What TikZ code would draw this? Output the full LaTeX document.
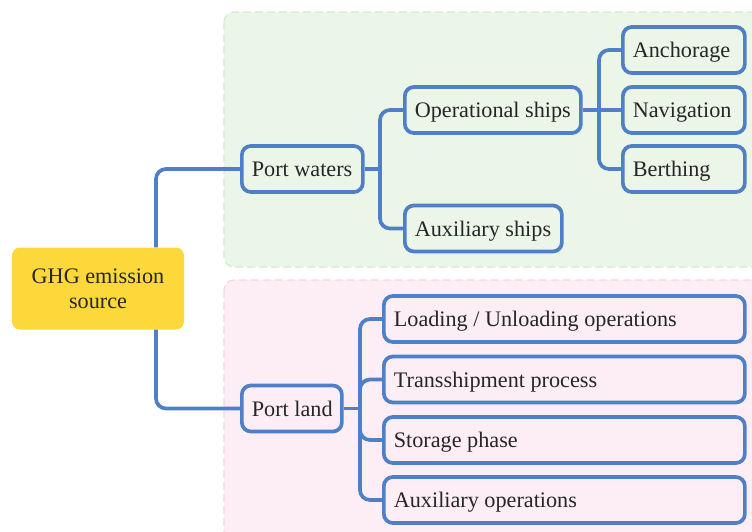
\documentclass[tikz,border=0pt]{standalone}
\usepackage{fontspec}
\setmainfont{Liberation Serif}
\definecolor{lineblue}{HTML}{4F7FC6}
\definecolor{ghgyellow}{HTML}{FCD83A}
\definecolor{txt}{HTML}{262626}
\definecolor{greenfill}{HTML}{EBF6E9}
\definecolor{greenedge}{HTML}{D2EACF}
\definecolor{pinkfill}{HTML}{FDEEF6}
\definecolor{pinkedge}{HTML}{F6D4E5}
\newcommand{\labelfont}{\fontsize{22.2}{25}\selectfont}
% fixed-width, left-aligned label that never wraps
\newcommand{\lbl}[2]{\makebox[#1][l]{#2}}
\tikzset{
  box/.style={draw=lineblue, line width=3.7pt, rounded corners=9pt,
    minimum height=46pt, inner xsep=10pt, text height=15pt, text depth=0pt,
    anchor=west, font=\labelfont, text=txt},
  conn/.style={draw=lineblue, line width=3.7pt, rounded corners=10pt},
  zone/.style={line width=1.2pt, dash pattern=on 8pt off 4pt, rounded corners=10pt},
}
\begin{document}
\begin{tikzpicture}[x=1pt,y=-1pt]
  \useasboundingbox (0,0) rectangle (752,531);
  \clip (0,0) rectangle (752,531);
  % background zones
  \filldraw[zone, fill=greenfill, draw=greenedge] (224,12) rectangle (780,267);
  \filldraw[zone, fill=pinkfill, draw=pinkedge] (224,280) rectangle (780,545);

  % root
  \node[fill=ghgyellow, rounded corners=8pt, minimum width=172pt, minimum height=82pt,
        align=center, font=\labelfont, text=txt] (ghg) at (98,288.5) {GHG emission\\source};

  % port waters branch
  \node[box] (pw) at (240,169) {\lbl{101pt}{Port waters}};
  \node[box] (os) at (403,110) {\lbl{156pt}{Operational ships}};
  \node[box] (as) at (403,228.5) {\lbl{137pt}{Auxiliary ships}};
  \node[box] (anc) at (621,50) {\lbl{102pt}{Anchorage}};
  \node[box] (nav) at (621,110) {\lbl{102pt}{Navigation}};
  \node[box] (ber) at (621,169) {\lbl{102pt}{Berthing}};

  % port land branch
  \node[box] (pl) at (240,408.5) {\lbl{80pt}{Port land}};
  \node[box] (lu) at (382,319) {\lbl{341pt}{Loading / Unloading operations}};
  \node[box] (tp) at (382,379.5) {\lbl{341pt}{Transshipment process}};
  \node[box] (sp) at (382,440) {\lbl{341pt}{Storage phase}};
  \node[box] (ao) at (382,500) {\lbl{341pt}{Auxiliary operations}};

  % connectors
  \coordinate (xa) at (156,0);
  \draw[conn] (ghg.north -| xa) |- (pw.west);
  \draw[conn] (ghg.south -| xa) |- (pl.west);

  \coordinate (b1) at (380,169);
  \draw[conn] (pw.east) -- (b1);
  \draw[conn] (b1) |- (os.west);
  \draw[conn] (b1) |- (as.west);

  \coordinate (b2) at (599,110);
  \draw[conn] (os.east) -- (nav.west);
  \draw[conn] (b2) |- (anc.west);
  \draw[conn] (b2) |- (ber.west);

  \coordinate (b3) at (360,408.5);
  \draw[conn] (pl.east) -- (b3);
  \draw[conn] (b3) |- (lu.west);
  \draw[conn] (b3) |- (tp.west);
  \draw[conn] (b3) |- (sp.west);
  \draw[conn] (b3) |- (ao.west);
\end{tikzpicture}
\end{document}
